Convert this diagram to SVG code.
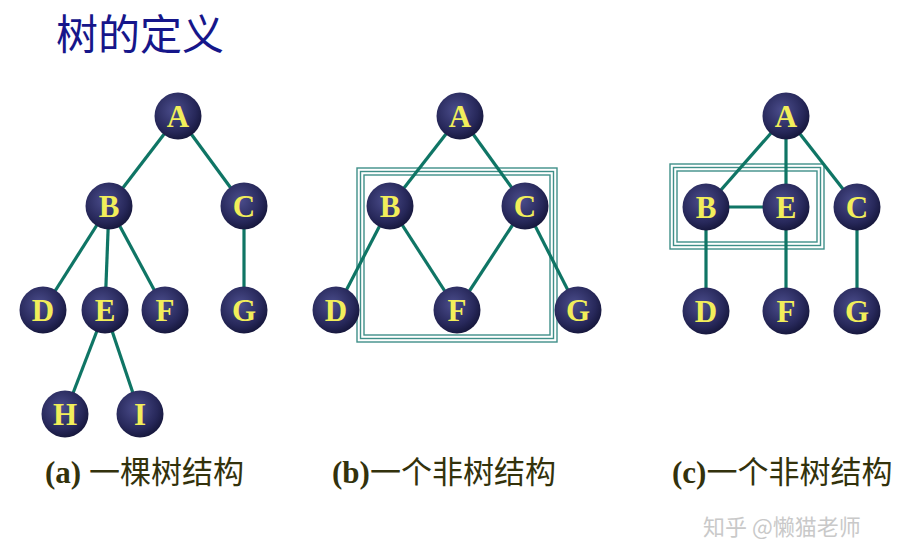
<svg xmlns="http://www.w3.org/2000/svg" width="924" height="546" viewBox="0 0 924 546">
<defs>
<radialGradient id="ball" cx="0.42" cy="0.38" r="0.65">
<stop offset="0" stop-color="#4b4d8c"/>
<stop offset="0.7" stop-color="#27285a"/>
<stop offset="1" stop-color="#15163a"/>
</radialGradient>
<style>
.n circle{fill:url(#ball)}
.n text{fill:#f2ee5a;font-family:"Liberation Serif",serif;font-weight:bold;font-size:31px;text-anchor:middle}
.e line{stroke:#0f7565;stroke-width:3.2}
.box rect{fill:none;stroke:#3f8f89;stroke-width:1.4}
.cap{font-family:"Liberation Serif","Noto Sans CJK SC",serif;font-size:31px;fill:#33320c}
.cap tspan.l{font-weight:bold}
</style>
</defs>
<rect width="924" height="546" fill="#fff"/>
<text x="56" y="50" font-family="Noto Sans CJK SC, sans-serif" font-size="42" fill="#16168a">树的定义</text>

<!-- boxes -->
<g class="box">
<rect x="357" y="168" width="200" height="174"/>
<rect x="360.5" y="171.5" width="193" height="167"/>
<rect x="364" y="175" width="186" height="160"/>
<rect x="670" y="164" width="154" height="85"/>
<rect x="673.5" y="167.5" width="147" height="78"/>
<rect x="677" y="171" width="140" height="71"/>
</g>

<g id="connectors" class="e">
<!-- (a) -->
<line x1="178" y1="116" x2="109" y2="206"/>
<line x1="178" y1="116" x2="244" y2="206"/>
<line x1="109" y1="206" x2="43" y2="310"/>
<line x1="109" y1="206" x2="105" y2="310"/>
<line x1="109" y1="206" x2="165" y2="310"/>
<line x1="244" y1="206" x2="244" y2="310"/>
<line x1="105" y1="310" x2="65" y2="414"/>
<line x1="105" y1="310" x2="140" y2="414"/>
<!-- (b) -->
<line x1="460" y1="116" x2="390" y2="206"/>
<line x1="460" y1="116" x2="525" y2="206"/>
<line x1="390" y1="206" x2="336" y2="310"/>
<line x1="390" y1="206" x2="457" y2="310"/>
<line x1="525" y1="206" x2="457" y2="310"/>
<line x1="525" y1="206" x2="578" y2="310"/>
<!-- (c) -->
<line x1="786" y1="116" x2="706" y2="207"/>
<line x1="786" y1="116" x2="786" y2="207"/>
<line x1="786" y1="116" x2="857" y2="207"/>
<line x1="706" y1="207" x2="786" y2="207"/>
<line x1="706" y1="207" x2="706" y2="311"/>
<line x1="786" y1="207" x2="786" y2="311"/>
<line x1="857" y1="207" x2="857" y2="311"/>
</g>

<!-- (a) nodes -->
<g id="a-A" class="n"><circle cx="178" cy="116" r="23.5"/><text x="178" y="127">A</text></g>
<g id="a-B" class="n"><circle cx="109" cy="206" r="23.5"/><text x="109" y="217">B</text></g>
<g id="a-C" class="n"><circle cx="244" cy="206" r="23.5"/><text x="244" y="217">C</text></g>
<g id="a-D" class="n"><circle cx="43" cy="310" r="23.5"/><text x="43" y="321">D</text></g>
<g id="a-E" class="n"><circle cx="105" cy="310" r="23.5"/><text x="105" y="321">E</text></g>
<g id="a-F" class="n"><circle cx="165" cy="310" r="23.5"/><text x="165" y="321">F</text></g>
<g id="a-G" class="n"><circle cx="244" cy="310" r="23.5"/><text x="244" y="321">G</text></g>
<g id="a-H" class="n"><circle cx="65" cy="414" r="23.5"/><text x="65" y="425">H</text></g>
<g id="a-I" class="n"><circle cx="140" cy="414" r="23.5"/><text x="140" y="425">I</text></g>

<!-- (b) nodes -->
<g id="b-A" class="n"><circle cx="460" cy="116" r="23.5"/><text x="460" y="127">A</text></g>
<g id="b-B" class="n"><circle cx="390" cy="206" r="23.5"/><text x="390" y="217">B</text></g>
<g id="b-C" class="n"><circle cx="525" cy="206" r="23.5"/><text x="525" y="217">C</text></g>
<g id="b-D" class="n"><circle cx="336" cy="310" r="23.5"/><text x="336" y="321">D</text></g>
<g id="b-F" class="n"><circle cx="457" cy="310" r="23.5"/><text x="457" y="321">F</text></g>
<g id="b-G" class="n"><circle cx="578" cy="310" r="23.5"/><text x="578" y="321">G</text></g>

<!-- (c) nodes -->
<g id="c-A" class="n"><circle cx="786" cy="116" r="23.5"/><text x="786" y="127">A</text></g>
<g id="c-B" class="n"><circle cx="706" cy="207" r="23.5"/><text x="706" y="218">B</text></g>
<g id="c-E" class="n"><circle cx="786" cy="207" r="23.5"/><text x="786" y="218">E</text></g>
<g id="c-C" class="n"><circle cx="857" cy="207" r="23.5"/><text x="857" y="218">C</text></g>
<g id="c-D" class="n"><circle cx="706" cy="311" r="23.5"/><text x="706" y="322">D</text></g>
<g id="c-F" class="n"><circle cx="786" cy="311" r="23.5"/><text x="786" y="322">F</text></g>
<g id="c-G" class="n"><circle cx="857" cy="311" r="23.5"/><text x="857" y="322">G</text></g>

<text class="cap" x="45" y="483"><tspan class="l">(a)</tspan> 一棵树结构</text>
<text class="cap" x="332" y="483"><tspan class="l">(b)</tspan>一个非树结构</text>
<text class="cap" x="672" y="483"><tspan class="l">(c)</tspan>一个非树结构</text>

<text x="703" y="535" font-family="Noto Sans CJK SC, sans-serif" font-size="22" fill="#c9c9c9">知乎 @懒猫老师</text>
</svg>
